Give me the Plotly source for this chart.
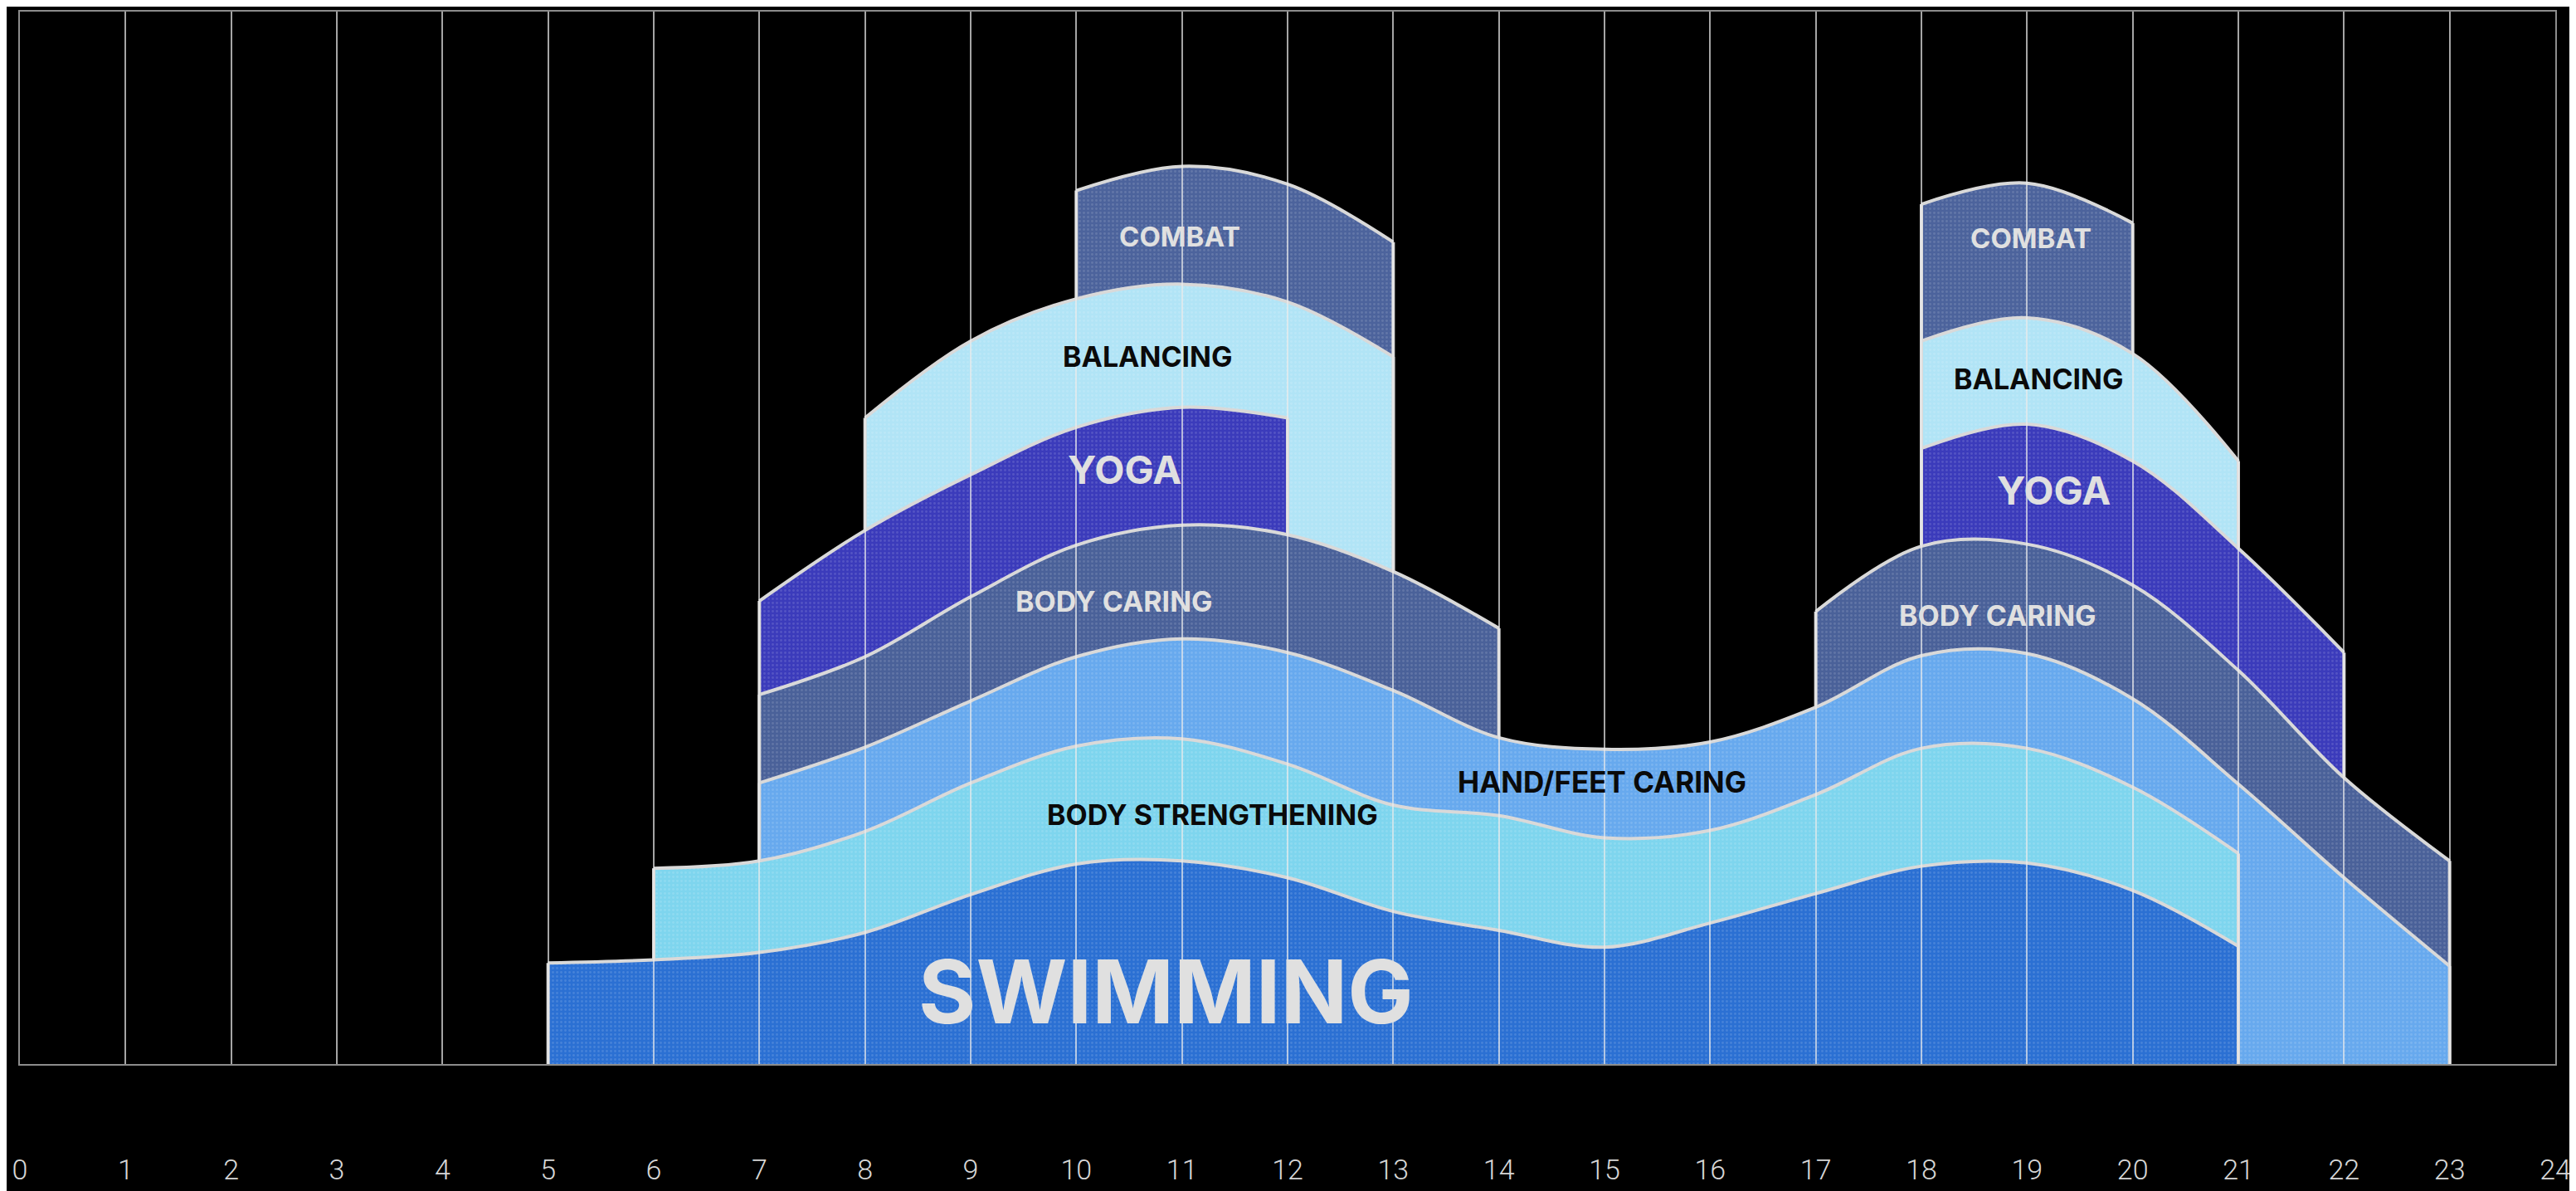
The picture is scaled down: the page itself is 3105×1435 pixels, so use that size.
import plotly.graph_objects as go

# hours of the day, 0..24
hours = list(range(25))

# thickness of each activity band per hour (None = not offered at that hour)
swimming = [None] * 5 + [9.6, 9.9, 10.6, 12.5, 16.1, 19.0, 19.3, 17.7, 14.5,
                         12.7, 11.1, 13.4, 16.2, 18.8, 19.1, 16.5, 11.2] + [None] * 3
body_strengthening = [None] * 6 + [8.7, 8.7, 9.6, 10.6, 11.2, 11.6, 10.8, 10.1,
                                   10.9, 10.4, 8.8, 9.4, 11.2, 10.9, 9.8, 8.8] + [None] * 3
hand_feet_caring = [None] * 7 + [7.4, 8.0, 7.8, 8.5, 9.5, 10.6, 10.9, 7.4, 8.4,
                                 8.4, 8.3, 8.8, 9.0, 8.4, 6.6, 17.7, 9.3] + [None]
body_caring = [None] * 7 + [8.4, 8.6, 9.9, 10.6, 10.8, 11.2, 11.3, 10.4] + [None] * 2 \
    + [9.1, 10.4, 10.4, 10.8, 10.8, 9.5, 10.0] + [None]
yoga = [None] * 7 + [8.9, 12.0, 11.6, 11.2, 11.2, 11.1] + [None] * 5 \
    + [9.3, 11.4, 11.8, 11.6, 11.9] + [None] * 2
balancing = [None] * 8 + [10.7, 12.7, 12.2, 11.7, 11.0, 20.4] + [None] * 4 \
    + [10.2, 10.1, 10.2, 8.3] + [None] * 3
combat = [None] * 10 + [10.3, 11.2, 11.2, 10.9] + [None] * 4 + [13.0, 12.8, 12.4] + [None] * 4

activities = ["SWIMMING", "BODY STRENGTHENING", "HAND/FEET CARING", "BODY CARING",
              "YOGA", "BALANCING", "COMBAT"]
series = [swimming, body_strengthening, hand_feet_caring, body_caring, yoga, balancing, combat]
colors = ["#2b70d3", "#7ed5ee", "#67a9ee", "#4a6199", "#3b3bbb", "#b1e4f6", "#4c639c"]

BORDER = "#d9d9d9"

# stack the bands: each band sits on whatever lower band is active at that hour
base = [0.0] * len(hours)
tops = []
for s in series:
    t = [None] * len(hours)
    for i, v in enumerate(s):
        if v is not None:
            t[i] = base[i] + v
            base[i] = t[i]
    tops.append(t)


def runs(vals):
    out, cur = [], []
    for i, v in enumerate(vals):
        if v is None:
            if cur:
                out.append(cur)
            cur = []
        else:
            cur.append(i)
    if cur:
        out.append(cur)
    return out


fig = go.Figure()

# draw from the top band down so each lower band covers the one above it
for name, t, col in reversed(list(zip(activities, tops, colors))):
    for r in runs(t):
        xs = [hours[i] for i in r]
        ys = [t[i] for i in r]
        fig.add_trace(go.Scatter(
            x=xs, y=ys, mode="lines", fill="tozeroy", fillcolor=col,
            fillpattern=dict(shape=".", fgcolor="white", fgopacity=0.13,
                             size=5, solidity=0.25, bgcolor=col),
            line=dict(color=BORDER, width=4, shape="spline"),
            name=name, showlegend=False, hoverinfo="skip",
        ))
        fig.add_trace(go.Scatter(
            x=[xs[0], xs[0], None, xs[-1], xs[-1]],
            y=[0, ys[0], None, 0, ys[-1]],
            mode="lines", line=dict(color=BORDER, width=4),
            showlegend=False, hoverinfo="skip",
        ))

# labels
label_text = ["COMBAT", "BALANCING", "YOGA", "BODY CARING", "BODY STRENGTHENING", "SWIMMING",
              "HAND/FEET CARING", "COMBAT", "BALANCING", "YOGA", "BODY CARING"]
label_x = [10.98, 10.68, 10.46, 10.36, 11.29, 10.85, 14.98, 19.04, 19.11, 19.25, 18.72]
label_y = [78.6, 67.2, 56.5, 44.0, 23.7, 6.9, 26.8, 78.5, 65.1, 54.5, 42.6]
label_size = [33, 34, 47, 34, 34, 106, 35, 33, 34, 47, 34]
label_color = ["#e0e0e0", "#0a0a0a", "#e0e0e0", "#e0e0e0", "#0a0a0a", "#e0e0e0",
               "#0a0a0a", "#e0e0e0", "#0a0a0a", "#e0e0e0", "#e0e0e0"]

for txt, x, y, sz, c in zip(label_text, label_x, label_y, label_size, label_color):
    fig.add_annotation(
        x=x, y=y, text=txt, showarrow=False, xanchor="center", yanchor="middle",
        font=dict(family="Inter, Liberation Sans, sans-serif", size=sz, color=c, weight=700),
    )

fig.update_layout(
    width=3105, height=1435,
    margin=dict(l=16, r=33, t=6, b=161),
    paper_bgcolor="black", plot_bgcolor="black",
    showlegend=False,
    xaxis=dict(
        range=[0, 24], tickmode="array", tickvals=hours, ticktext=[str(h) for h in hours],
        showgrid=False, zeroline=False, automargin=False,
        ticks="inside", ticklen=1268, tickwidth=1.5, tickcolor="rgba(235,235,235,0.7)",
        showline=True, linecolor="#8c8c8c", linewidth=2, mirror=True,
        layer="above traces",
        ticklabelstandoff=96,
        tickfont=dict(family="Roboto, Liberation Sans, sans-serif", size=34, color="#d6d6d6", weight=300),
    ),
    yaxis=dict(
        range=[0, 100], showgrid=False, zeroline=False, showticklabels=False, ticks="",
        showline=True, linecolor="#8c8c8c", linewidth=2, mirror=True,
        layer="above traces", automargin=False,
    ),
)

fig.write_html("out.html")
